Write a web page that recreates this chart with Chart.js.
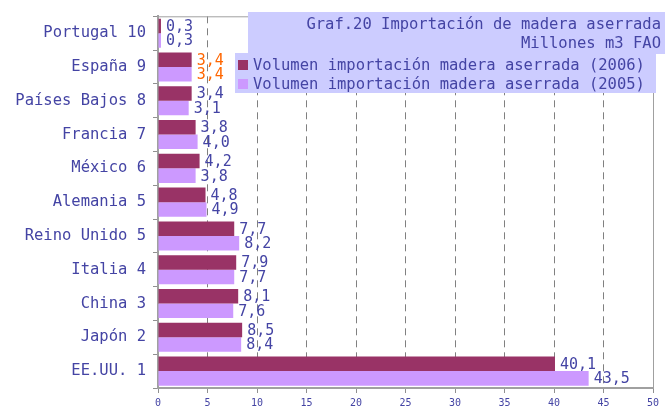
<!DOCTYPE html>
<html>
<head>
<meta charset="utf-8">
<script src="https://cdn.jsdelivr.net/npm/chart.js@4.4.0/dist/chart.umd.min.js"></script>
<style>
  html, body { margin: 0; padding: 0; background: #fff; }
  #wrap { width: 665px; height: 410px; position: relative; }
</style>
</head>
<body>
<div id="wrap"><canvas id="chart"></canvas></div>
<script>
// datos
const categories = ['Portugal 10', 'España 9', 'Países Bajos 8', 'Francia 7', 'México 6',
  'Alemania 5', 'Reino Unido 5', 'Italia 4', 'China 3', 'Japón 2', 'EE.UU. 1'];
const vol2006 = [0.3, 3.4, 3.4, 3.8, 4.2, 4.8, 7.7, 7.9, 8.1, 8.5, 40.1];
const vol2005 = [0.3, 3.4, 3.1, 4.0, 3.8, 4.9, 8.2, 7.7, 7.6, 8.4, 43.5];
const xTicks = [0, 5, 10, 15, 20, 25, 30, 35, 40, 45, 50];
const titleLines = ['Graf.20 Importación de madera aserrada', 'Millones m3 FAO'];
const seriesLabels = ['Volumen importación madera aserrada (2006)', 'Volumen importación madera aserrada (2005)'];

const TEXT = '#4444a4';
const MONO = "'DejaVu Sans Mono', monospace";
const fmt = (n) => n.toFixed(1).replace('.', ',');

// etiquetas de valor
const valueLabels = {
  id: 'valueLabels',
  afterDatasetsDraw(chart) {
    const ctx = chart.ctx;
    ctx.save();
    ctx.font = '15px ' + MONO;
    ctx.textBaseline = 'middle';
    ctx.textAlign = 'left';
    chart.data.datasets.forEach((ds, di) => {
      chart.getDatasetMeta(di).data.forEach((bar, i) => {
        ctx.fillStyle = i === 1 ? '#ff6600' : TEXT;
        ctx.fillText(fmt(ds.data[i]), bar.x + 5, bar.y + 1);
      });
    });
    ctx.restore();
  }
};

// marco, título y leyenda
const frameAndLegend = {
  id: 'frameAndLegend',
  beforeDatasetsDraw(chart) {
    const { ctx, chartArea: a } = chart;
    ctx.save();
    ctx.strokeStyle = '#a0a0a0';
    ctx.lineWidth = 1;
    ctx.beginPath();
    ctx.moveTo(a.left, a.top + 0.5);
    ctx.lineTo(a.right + 0.5, a.top + 0.5);
    ctx.lineTo(a.right + 0.5, a.bottom);
    ctx.stroke();
    ctx.restore();
  },
  afterDraw(chart) {
    const ctx = chart.ctx;
    ctx.save();
    ctx.fillStyle = '#ccccff';
    ctx.fillRect(248, 12, 417, 42);
    ctx.fillRect(235, 53, 421, 40);
    ctx.font = '15.5px ' + MONO;
    ctx.fillStyle = TEXT;
    ctx.textBaseline = 'middle';
    ctx.textAlign = 'right';
    ctx.fillText(titleLines[0], 661, 25);
    ctx.fillText(titleLines[1], 661, 44);
    ctx.textAlign = 'left';
    chart.data.datasets.forEach((ds, di) => {
      const y = 65 + di * 19;
      ctx.fillStyle = ds.backgroundColor;
      ctx.fillRect(238, y - 5, 10, 10);
      ctx.fillStyle = TEXT;
      ctx.fillText(ds.label, 253, y + 1);
    });
    ctx.restore();
  }
};

new Chart(document.getElementById('chart'), {
  type: 'bar',
  data: {
    labels: categories,
    datasets: [
      { label: seriesLabels[0], data: vol2006, backgroundColor: '#993366' },
      { label: seriesLabels[1], data: vol2005, backgroundColor: '#cc99ff' }
    ]
  },
  options: {
    indexAxis: 'y',
    responsive: true,
    maintainAspectRatio: false,
    animation: false,
    devicePixelRatio: 1,
    layout: { padding: { top: 16, right: 12, left: 0, bottom: 0 } },
    datasets: { bar: { categoryPercentage: 0.86, barPercentage: 1.0 } },
    plugins: { legend: { display: false }, title: { display: false }, tooltip: { enabled: false } },
    scales: {
      x: {
        min: 0, max: 50,
        afterBuildTicks: (s) => { s.ticks = xTicks.map(v => ({ value: v })); },
        afterFit: (s) => { s.height = 22; },
        grid: {
          color: (c) => (c.index === 0 || c.index === xTicks.length - 1) ? 'rgba(0,0,0,0)' : '#808080',
          tickColor: '#909090',
          tickLength: 5,
          lineWidth: 1
        },
        border: { display: true, color: '#a0a0a0', width: 2, dash: [7, 5] },
        ticks: { color: TEXT, font: { family: MONO, size: 10 }, padding: 4, maxRotation: 0 }
      },
      y: {
        afterFit: (s) => { s.width = 158; },
        grid: { drawOnChartArea: false, tickLength: 5, tickColor: '#909090' },
        border: { display: true, color: '#a0a0a0', width: 2 },
        ticks: { color: TEXT, font: { family: MONO, size: 15.5 }, padding: 7, autoSkip: false }
      }
    }
  },
  plugins: [valueLabels, frameAndLegend]
});
</script>
</body>
</html>
